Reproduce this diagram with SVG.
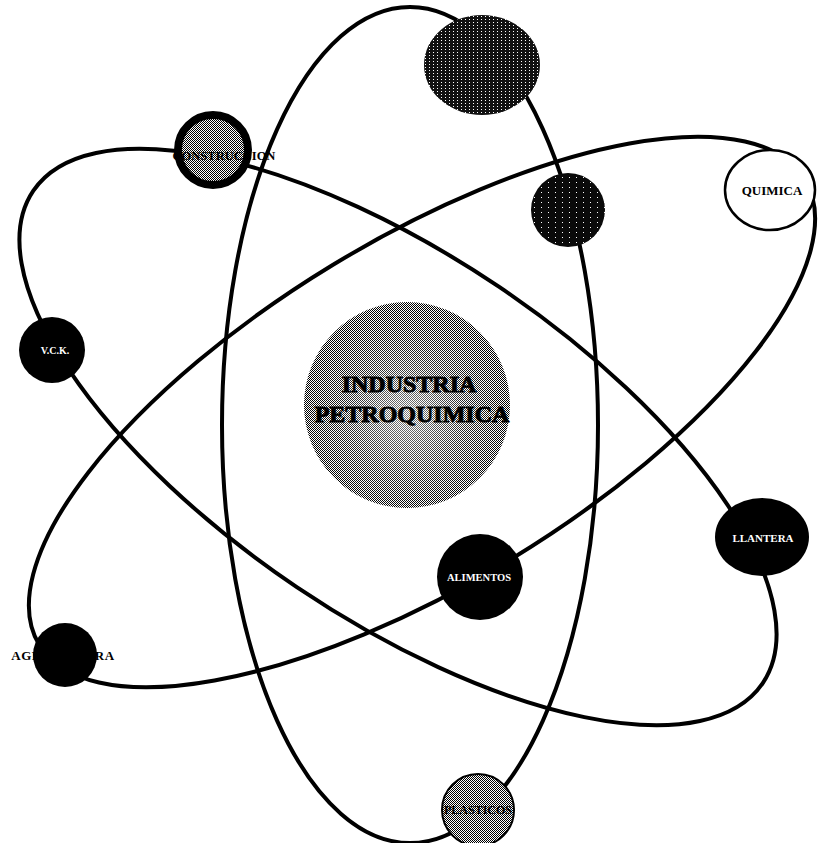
<svg xmlns="http://www.w3.org/2000/svg" width="819" height="843" viewBox="0 0 819 843">
<style>
.orbit{fill:none;stroke:#000;stroke-width:4}
.lbl{font-family:"Liberation Serif","Times New Roman",serif;font-weight:bold;text-anchor:middle}
.blk{fill:#000}
.wht{fill:#fff}
.heavy{stroke:#000;stroke-width:0.9}
</style>
<defs>
<pattern id="checker" width="2" height="2" patternUnits="userSpaceOnUse">
<rect width="2" height="2" fill="#fff"/>
<rect width="1" height="1" fill="#000"/>
<rect x="1" y="1" width="1" height="1" fill="#000"/>
</pattern>
<pattern id="darkdots" width="4" height="3" patternUnits="userSpaceOnUse">
<rect width="4" height="3" fill="#111"/>
<rect x="1" y="1" width="1" height="1" fill="#fff"/>
</pattern>
<pattern id="sparse" width="7" height="5" patternUnits="userSpaceOnUse">
<rect width="7" height="5" fill="#0a0a0a"/>
<rect x="2" y="2" width="1" height="1" fill="#fff"/>
</pattern>
<radialGradient id="glow" cx="0.5" cy="0.55" r="0.5">
<stop offset="0" stop-color="#fff" stop-opacity="0.5"/>
<stop offset="0.6" stop-color="#fff" stop-opacity="0.15"/>
<stop offset="1" stop-color="#fff" stop-opacity="0"/>
</radialGradient>
</defs>

<g id="connectors">
<ellipse class="orbit" cx="410" cy="425" rx="188" ry="418"/>
<ellipse class="orbit" cx="398" cy="437" rx="440" ry="181" transform="rotate(34 398 437)"/>
<ellipse class="orbit" cx="422" cy="412" rx="448" ry="172" transform="rotate(-31.3 422 412)"/>
</g>

<g id="center">
<circle cx="407" cy="405" r="103" fill="url(#checker)"/>
<circle cx="407" cy="405" r="103" fill="url(#glow)"/>
<text class="lbl blk heavy" x="409" y="392" font-size="24">INDUSTRIA</text>
<text class="lbl blk heavy" x="412" y="422" font-size="24">PETROQUIMICA</text>
</g>

<g id="node-top">
<ellipse cx="482" cy="65" rx="58" ry="50" fill="url(#darkdots)"/>
</g>

<g id="node-dark2">
<circle cx="568" cy="210" r="37" fill="url(#sparse)"/>
</g>

<g id="node-quimica">
<ellipse cx="770" cy="190" rx="45" ry="40" fill="#fff" stroke="#000" stroke-width="2.5"/>
<text class="lbl blk" x="772" y="195" font-size="13">QUIMICA</text>
</g>

<g id="node-construccion">
<circle cx="213" cy="150" r="35" fill="url(#checker)" stroke="#000" stroke-width="8"/>
<text class="lbl blk" x="224" y="160" font-size="12.5">CONSTRUCCION</text>
</g>

<g id="node-vidrio">
<circle cx="52" cy="350" r="33" fill="#000"/>
<text class="lbl wht" x="55" y="354" font-size="10">V.C.K.</text>
</g>

<g id="node-llantera">
<ellipse cx="762" cy="537" rx="47" ry="39" fill="#000"/>
<text class="lbl wht" x="763" y="542" font-size="11">LLANTERA</text>
</g>

<g id="node-gomerias">
<circle cx="480" cy="577" r="43" fill="#000"/>
<text class="lbl wht" x="479" y="581" font-size="10.5">ALIMENTOS</text>
</g>

<g id="node-agricultura">
<circle cx="65" cy="655" r="32" fill="#000"/>
<text class="lbl blk" x="63" y="660" font-size="13" letter-spacing="0.6">AGRICULTURA</text>
</g>

<g id="node-plasticos">
<circle cx="478" cy="810" r="36" fill="url(#checker)" stroke="#000" stroke-width="2"/>
<text class="lbl blk" x="478" y="814" font-size="12">PLASTICOS</text>
</g>
</svg>
